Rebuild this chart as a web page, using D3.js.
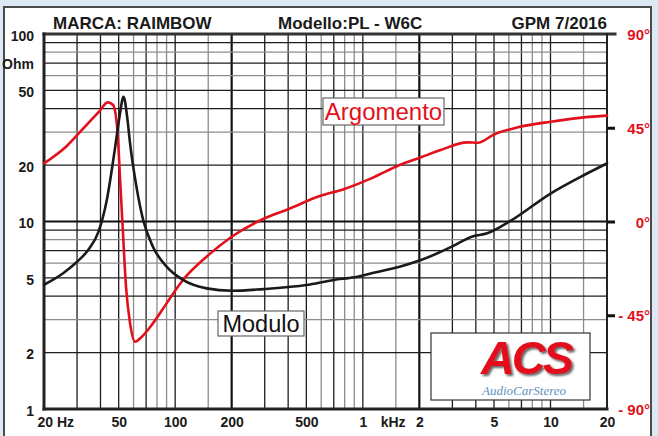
<!DOCTYPE html>
<html>
<head>
<meta charset="utf-8">
<title>Rainbow PL-W6C - Modulo / Argomento</title>
<style>
  body { margin: 0; background: #dde8f5; }
  svg { display: block; font-family: "Liberation Sans", Arial, sans-serif; }
  .title { font-size: 17px; font-weight: bold; fill: #1a1a1a; }
  .grid-dark { stroke: #1e1e1e; stroke-width: 1.3; }
  .grid-light { stroke: #8c8c8c; stroke-width: 1.3; }
  .grid-major { stroke: #111; stroke-width: 2.2; }
  .frame { stroke: #222; stroke-linecap: square; }
  .axis text { font-size: 14px; font-weight: bold; fill: #1a1a1a; font-family: "Liberation Sans", Arial, sans-serif; }
  .axis-phase text { fill: #e3101b; font-size: 15px; }
  .axis-phase line { stroke: #111; stroke-width: 3; }
  .curve { fill: none; stroke-width: 2.6; stroke-linejoin: round; stroke-linecap: round; }
  .tag { fill: #fff; stroke: #666; stroke-width: 1.2; }
</style>
</head>
<body>
<svg id="chart" width="658" height="436">
  <defs>
    <filter id="logo-shadow" x="-10%" y="-10%" width="130%" height="130%">
      <feDropShadow dx="2" dy="2" stdDeviation="0.8" flood-color="#555" flood-opacity="0.9"/>
    </filter>
  </defs>
</svg>

<script src="https://d3js.org/d3.v7.min.js"></script>
<script>
// impedance (Modulo), ohm vs Hz
const impFreq = [20, 25.3, 30, 34.4, 39, 43.2, 47.9, 50.5, 53.1, 55.5, 57.5, 62.2, 67.5, 76.1, 90, 110, 147,
                 200, 294, 500, 700, 900, 1140, 1570, 2040, 2980, 3800, 4600, 6150, 10000, 15100, 20000];
const impOhm  = [4.6, 5.3, 6.1, 7.05, 8.8, 13.0, 25, 36.2, 46.3, 36, 26.1, 15.3, 10.2, 7.34, 5.74, 4.88, 4.4,
                 4.27, 4.36, 4.58, 4.88, 5.04, 5.33, 5.74, 6.23, 7.34, 8.3, 8.65, 10.1, 14.1, 17.7, 20.4];

// phase (Argomento), degrees vs Hz
const phaseFreq = [20, 26.2, 32.4, 39.3, 43.7, 46.7, 49.2, 50.9, 52.6, 54.7, 57.5, 61.2, 65, 76.1, 90, 110, 147,
                   200, 294, 400, 590, 790, 1140, 1570, 2040, 2600, 3600, 4100, 5030, 6700, 10000, 15100, 20000];
const phaseDeg  = [27.9, 35.9, 44.7, 52.7, 57.2, 55.9, 43.9, 19.9, -4.1, -31.3, -48.9, -57.7, -56.1, -48.9, -39.3, -28.1, -16.9,
                   -7.3, 1.2, 5.9, 12.2, 15.5, 21.2, 27.1, 30.8, 34.3, 38.0, 37.8, 41.9, 45.2, 47.9, 50.0, 50.8];

// axes
const xTickValues = [20, 50, 100, 200, 500, 1000, 2000, 5000, 10000, 20000];
const xTickLabels = ["20 Hz", "50", "100", "200", "500", "1", "2", "5", "10", "20"];
const yTickValues = [1, 2, 5, 10, 20, 50, 100];
const phaseTicks = [90, 45, 0, -45, -90];
const phaseLabels = ["90°", "45°", "0°", "- 45°", "- 90°"];
const gridFreqs = [30, 40, 50, 60, 70, 80, 90, 100, 150, 200, 300, 400, 500, 600, 700, 800, 900,
                   1000, 1500, 2000, 3000, 4000, 5000, 6000, 7000, 8000, 9000, 10000, 15000];
const gridOhms = [2, 3, 4, 5, 6, 7, 8, 9, 10, 20, 30, 40, 50, 60, 70, 80, 90];

const svg = d3.select('#chart');

const x = d3.scaleLog().domain([20, 20000]).range([44, 607]);
const y = d3.scaleLog().domain([1, 100]).range([409, 34]);
const yPhase = d3.scaleLinear().domain([-90, 90]).range([409, 34]);

// panel
svg.append('rect').attr('x', 4).attr('y', 7).attr('width', 647).attr('height', 445)
    .attr('fill', '#fff').attr('stroke', '#4a4a4a').attr('stroke-width', 2);

// header
svg.append('text').attr('class', 'title').attr('x', 53).attr('y', 29).text('MARCA: RAIMBOW');
svg.append('text').attr('class', 'title').attr('x', 278).attr('y', 29).text('Modello:PL - W6C');
svg.append('text').attr('class', 'title').attr('x', 607).attr('y', 29).attr('text-anchor', 'end').text('GPM 7/2016');

const mant = v => +(v / Math.pow(10, Math.floor(Math.log10(v)))).toFixed(2);

// vertical grid
svg.append('g').selectAll('line').data(gridFreqs).enter().append('line')
    .attr('class', d => mant(d) === 2 ? 'grid-major' : ([6, 8, 9, 1.5].includes(mant(d)) ? 'grid-light' : 'grid-dark'))
    .attr('x1', d => x(d)).attr('x2', d => x(d))
    .attr('y1', y(100)).attr('y2', y(1));

// horizontal grid
svg.append('g').selectAll('line').data(gridOhms).enter().append('line')
    .attr('class', d => d === 10 ? 'grid-major' : ([3, 6, 8].includes(mant(d)) ? 'grid-light' : 'grid-dark'))
    .attr('x1', x(20)).attr('x2', x(20000))
    .attr('y1', d => y(d)).attr('y2', d => y(d));

// frame
const fr = svg.append('g').attr('class', 'frame');
fr.append('line').attr('x1', x(20)).attr('x2', 615).attr('y1', y(100)).attr('y2', y(100))
    .attr('stroke-width', 3).attr('stroke', '#333');
fr.append('line').attr('x1', x(20)).attr('x2', x(20)).attr('y1', y(100)).attr('y2', y(1)).attr('stroke-width', 3);
fr.append('line').attr('x1', x(20)).attr('x2', x(20000)).attr('y1', y(1)).attr('y2', y(1)).attr('stroke-width', 3);
fr.append('line').attr('x1', x(20000)).attr('x2', x(20000)).attr('y1', y(100)).attr('y2', y(1)).attr('stroke-width', 2);

// label boxes
svg.append('rect').attr('class', 'tag').attr('x', 323).attr('y', 98).attr('width', 121).attr('height', 27);
svg.append('text').attr('x', 383.5).attr('y', 120).attr('text-anchor', 'middle')
    .attr('font-size', 24).attr('fill', '#e3101b').text('Argomento');
svg.append('rect').attr('class', 'tag').attr('x', 218).attr('y', 311).attr('width', 86).attr('height', 25);
svg.append('text').attr('x', 261).attr('y', 332).attr('text-anchor', 'middle')
    .attr('font-size', 23.5).attr('fill', '#111').text('Modulo');

// logo
const logo = svg.append('g');
logo.append('rect').attr('x', 431).attr('y', 333).attr('width', 159).attr('height', 67)
    .attr('fill', '#fff').attr('stroke', '#333').attr('stroke-width', 1.2);
logo.append('text').attr('x', 526).attr('y', 374).attr('text-anchor', 'middle')
    .attr('font-size', 47).attr('font-weight', 'bold').attr('font-style', 'italic')
    .attr('letter-spacing', -3).attr('fill', '#e3101b').attr('filter', 'url(#logo-shadow)').text('ACS');
logo.append('text').attr('x', 524).attr('y', 395).attr('text-anchor', 'middle')
    .attr('font-family', '"Liberation Serif", serif').attr('font-size', 13).attr('font-style', 'italic')
    .attr('fill', '#5f93bd').text('AudioCarStereo');

// axes
const xAxis = svg.append('g').attr('class', 'axis').attr('transform', `translate(0,${y(1)})`)
    .call(d3.axisBottom(x).tickValues(xTickValues).tickFormat((d, i) => xTickLabels[i]).tickSize(0).tickPadding(8));
xAxis.select('.domain').remove();
xAxis.selectAll('.tick text').filter(d => d === 20).attr('text-anchor', 'start').attr('dx', -7);
xAxis.append('text').attr('x', x(1450)).attr('y', 8).attr('dy', '0.71em').attr('text-anchor', 'middle').text('kHz');

const yAxis = svg.append('g').attr('class', 'axis').attr('transform', `translate(${x(20)},0)`)
    .call(d3.axisLeft(y).tickValues(yTickValues).tickFormat(d3.format('d')).tickSize(0).tickPadding(10));
yAxis.select('.domain').remove();
yAxis.selectAll('.tick text').attr('dy', '0.45em');
yAxis.append('text').attr('x', -10).attr('y', y(70)).attr('dy', '0.4em').attr('text-anchor', 'end')
    .attr('font-size', 12.5).text('Ohm');

const pAxis = svg.append('g').attr('class', 'axis axis-phase').attr('transform', `translate(${x(20000)},0)`)
    .call(d3.axisRight(yPhase).tickValues(phaseTicks).tickFormat((d, i) => phaseLabels[i]).tickSize(8));
pAxis.select('.domain').remove();
pAxis.selectAll('.tick line').filter(d => Math.abs(d) === 90).remove();
pAxis.selectAll('.tick text').attr('text-anchor', 'end').attr('x', 43).attr('dy', '0.38em');

// curves
const impLine = d3.line().x((d, i) => x(impFreq[i])).y(d => y(d)).curve(d3.curveMonotoneX);
const phaseLine = d3.line().x((d, i) => x(phaseFreq[i])).y(d => yPhase(d)).curve(d3.curveMonotoneX);

svg.append('path').datum(phaseDeg).attr('class', 'curve').attr('stroke', '#e3101b').attr('d', phaseLine);
svg.append('path').datum(impOhm).attr('class', 'curve').attr('stroke', '#1a1a1a').attr('d', impLine);
</script>
</body>
</html>
